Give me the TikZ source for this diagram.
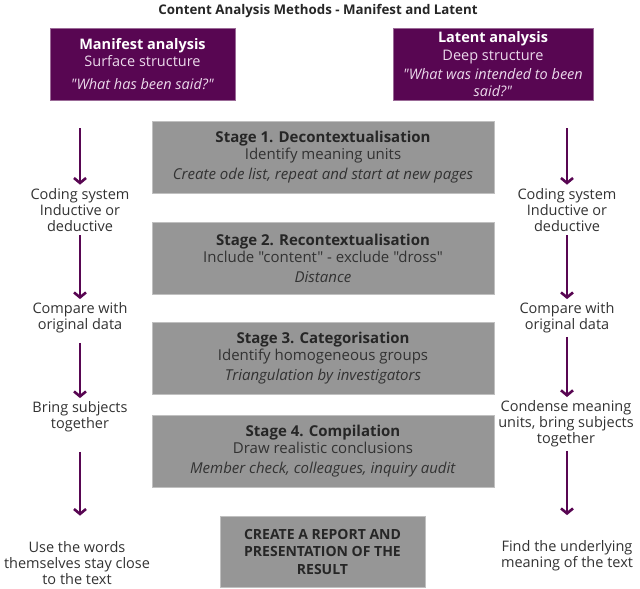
\documentclass[tikz,border=0pt]{standalone}
\usepackage{fontspec}
\setmainfont{Open Sans}[Ligatures=TeXOff]
\usetikzlibrary{arrows.meta}
\definecolor{canvapurple}{RGB}{88,6,82}
\definecolor{stagegrey}{RGB}{150,150,150}
\definecolor{inkgrey}{RGB}{50,50,50}
\definecolor{lilac}{RGB}{236,218,236}
\newcommand{\stagetxt}[3]{
  \textbf{\color{black!85}#1}\\
  #2\\[3pt]
  \textit{#3}
}
\begin{document}
\begin{tikzpicture}[x=1pt,y=-1pt]

%
% Styles
%
\tikzstyle{header} = [rectangle,fill=canvapurple,draw=canvapurple!60,text=lilac,align=center,minimum height=72pt,inner sep=0pt,font=\fontsize{14.5}{17}\selectfont]
\tikzstyle{stage} = [rectangle,fill=stagegrey,draw=stagegrey!60,text=inkgrey,align=center,minimum width=342pt,minimum height=72pt,inner sep=0pt,font=\fontsize{15}{17}\selectfont]
\tikzstyle{side} = [align=center,text=inkgrey,font=\fontsize{14.5}{16.2}\selectfont]
\tikzstyle{flow} = [draw=canvapurple,line width=2.6pt,-{Straight Barb[length=5pt,width=12pt]}]

\useasboundingbox (0,0) rectangle (640,589);

\node (title) at (318,11) {\fontsize{13.3}{15}\selectfont\bfseries\color{black!85}Content Analysis Methods - Manifest and Latent};

\node[header,minimum width=185pt] (manifest) at (142.5,64) {\textbf{\color{white}Manifest analysis}\\Surface structure\\[6pt]\textit{"What has been said?"}};
\node[header,minimum width=200pt] (latent) at (493,64) {\textbf{\color{white}Latent analysis}\\[1pt]Deep structure\\[2pt]\textit{"What was intended to been}\\\textit{said?"}};

\node[stage] (s1) at (323,157) {\stagetxt{Stage 1. Decontextualisation}{Identify meaning units}{Create ode list, repeat and start at new pages}};
\node[stage] (s2) at (323,258) {\stagetxt{Stage 2. Recontextualisation}{Include "content" - exclude "dross"}{Distance}};
\node[stage] (s3) at (323,358.5) {\stagetxt{Stage 3. Categorisation}{Identify homogeneous groups}{Triangulation by investigators}};
\node[stage] (s4) at (323,451) {\stagetxt{Stage 4. Compilation}{Draw realistic conclusions}{Member check, colleagues, inquiry audit}};
\node[stage,minimum width=205pt,minimum height=71pt,text=black!85,font=\fontsize{14}{17.5}\selectfont] (report) at (322.5,551.5) {\bfseries CREATE A REPORT AND\\\bfseries PRESENTATION OF THE\\\bfseries RESULT};

% left column
\coordinate (l0) at (80,128);
\node[side] (lc1) at (80,210) {Coding system\\Inductive or\\deductive};
\node[side] (lc2) at (80,318) {Compare with\\original data};
\node[side] (lc3) at (80,417) {Bring subjects\\together};
\node[side] (lc4) at (77,563) {Use the words\\themselves stay close\\to the text};

% right column
\coordinate (r0) at (567,128);
\node[side] (rc1) at (567,210) {Coding system\\Inductive or\\deductive};
\node[side] (rc2) at (567,318) {Compare with\\original data};
\node[side] (rc3) at (566,424) {Condense meaning\\units, bring subjects\\together};
\node[side] (rc4) at (567,556) {Find the underlying\\meaning of the text};

\path[flow] (l0) -- (lc1);
\path[flow] (lc1) -- (lc2);
\path[flow,shorten <=6pt] (lc2) -- (lc3);
\path[flow,shorten <=16pt,shorten >=22pt] (lc3) -- (lc4.north -| l0);

\path[flow] (r0) -- (rc1);
\path[flow] (rc1) -- (rc2);
\path[flow] (rc2) -- (rc3.north -| r0);
\path[flow,shorten >=22pt] (rc3.south -| r0) -- (rc4);

\end{tikzpicture}
\end{document}
